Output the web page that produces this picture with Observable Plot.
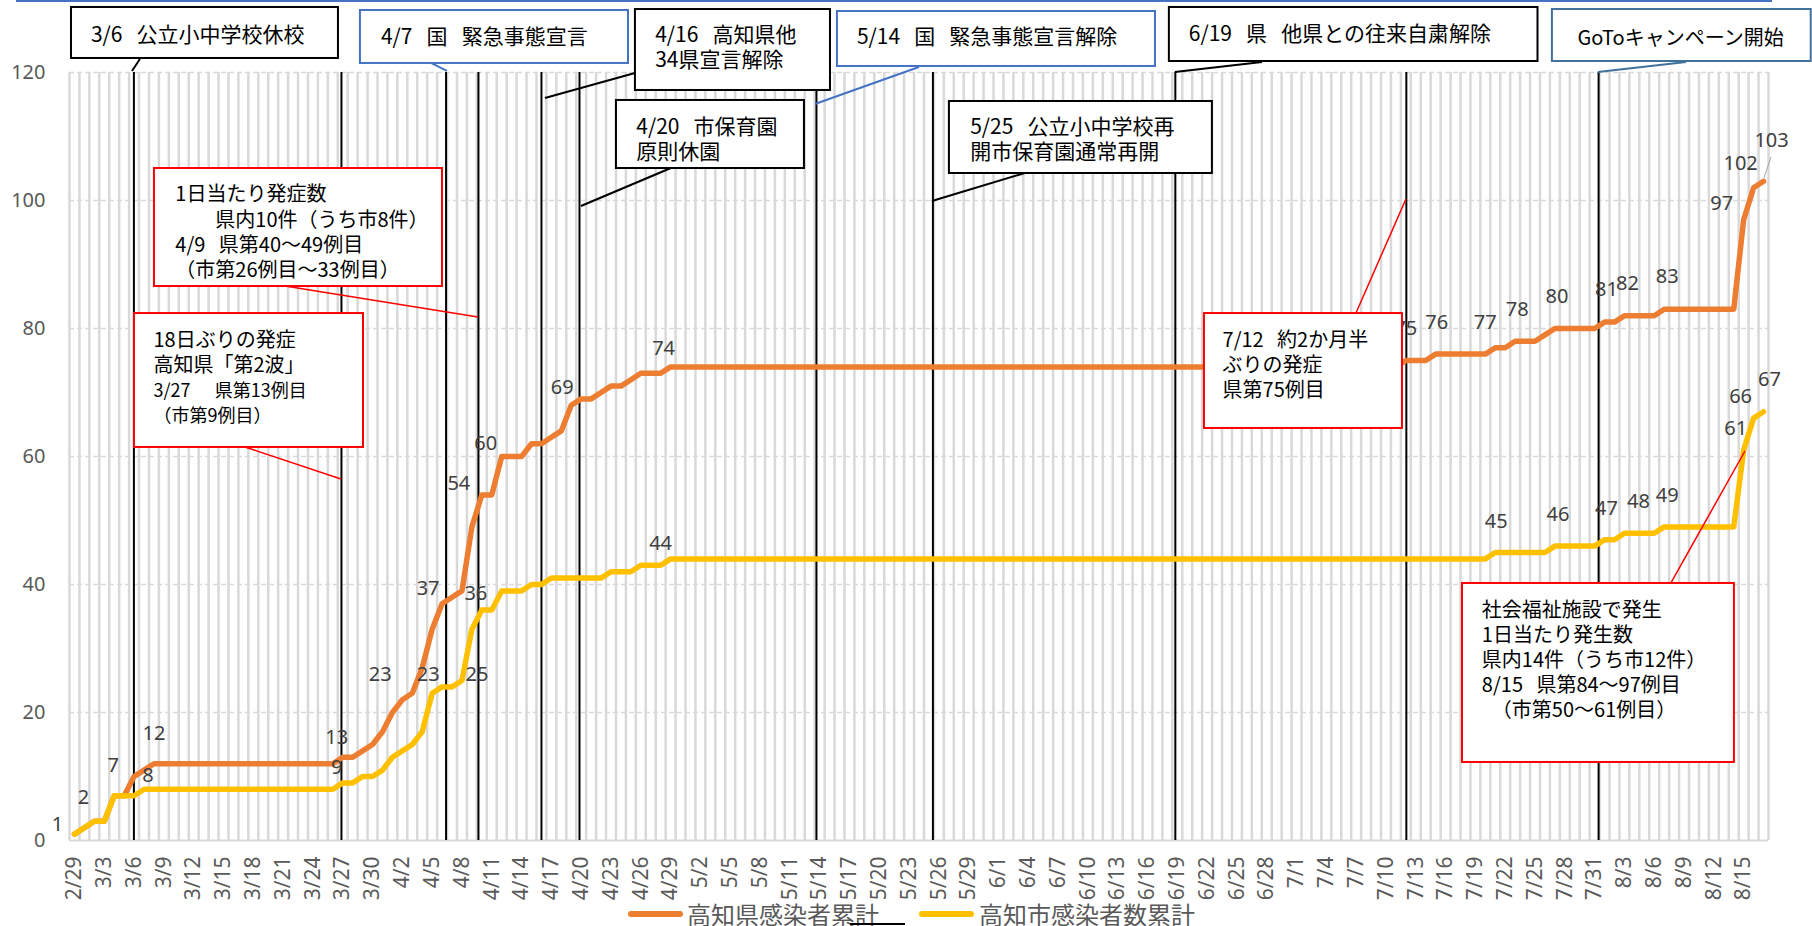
<!DOCTYPE html>
<html><head><meta charset="utf-8">
<script src="https://cdn.jsdelivr.net/npm/d3@7"></script>
<script src="https://cdn.jsdelivr.net/npm/@observablehq/plot@0.6"></script>
<style>
html,body{margin:0;padding:0;background:#fff;}
body{width:1812px;height:926px;overflow:hidden;position:relative;font-family:"Noto Sans","Noto Sans CJK JP",sans-serif;}
#chart{position:absolute;left:0;top:0;}
#legend{position:absolute;left:0;top:898px;width:1812px;height:32px;font-family:"Noto Sans CJK JP",sans-serif;}
#legend .sw{position:absolute;top:13px;width:55px;height:6px;border-radius:3px;}
#legend .tx{position:absolute;top:0;font-size:24px;line-height:32px;color:#595959;white-space:nowrap;}
</style></head><body>
<div id="chart"></div>
<div id="legend">
  <span class="sw" style="left:628px;background:#ED7D31"></span>
  <span class="tx" style="left:687px">高知県感染者累計</span>
  <span class="sw" style="left:919px;background:#FFC000"></span>
  <span class="tx" style="left:979px">高知市感染者数累計</span>
  <span style="position:absolute;left:850px;top:25px;width:55px;height:2px;background:#000"></span>
</div>
<script>
// ---- data: day index 0 = 2020-02-29, one value per day ----
const startDate = new Date(2020, 1, 29);
const seriesNames = ["高知県感染者累計", "高知市感染者数累計"];
const prefCumulative = [
  1,2,3,3,7,7,10,11,
  12,12,12,12,12,12,12,12,12,12,12,12,12,12,12,12,12,12,12,
  13,13,14,15,17,20,22,23,27,33,37,38,39,49,54,54,60,60,60,62,62,63,64,68,69,69,70,71,71,72,73,73,73,
  74,74,74,74,74,74,74,74,74,74,74,74,74,74,74,74,74,74,74,74,74,74,74,74,74,74,74,74,74,74,74,74,74,74,74,74,74,
  74,74,74,74,74,74,74,74,74,74,74,74,74,74,74,74,74,74,74,74,74,74,74,74,74,74,74,74,74,74,74,74,74,74,74,74,74,
  75,75,75,76,76,76,76,76,76,77,77,78,78,78,79,80,80,80,80,80,81,81,82,82,82,82,
  83,83,83,83,83,83,83,83,97,102,103
];
const cityCumulative = [
  1,2,3,3,7,7,7,
  8,8,8,8,8,8,8,8,8,8,8,8,8,8,8,8,8,8,8,8,
  9,9,10,10,11,13,14,15,17,23,24,24,25,33,36,36,39,39,39,40,40,41,41,41,41,41,41,42,42,42,43,43,43,
  44,44,44,44,44,44,44,44,44,44,44,44,44,44,44,44,44,44,44,44,44,44,44,44,44,44,44,44,44,44,44,44,44,44,44,44,44,44,44,44,44,44,
  44,44,44,44,44,44,44,44,44,44,44,44,44,44,44,44,44,44,44,44,44,44,44,44,44,44,44,44,44,44,44,44,44,44,44,44,44,44,44,44,44,
  45,45,45,45,45,45,46,46,46,46,46,47,47,48,48,48,48,
  49,49,49,49,49,49,49,49,61,66,67
];
const xTickDays = d3.range(0, 171, 3);
const yTickValues = [0, 20, 40, 60, 80, 100, 120];
const eventLineDays = [5.98, 26.87, 37.4, 40.66, 47.0, 50.83, 74.68, 86.4, 110.8, 134.05, 153.4];
const prefLabelDays = [0,1,4,8,27,34,37,41,43,51,60,134,137,143,145,149,154,156,160,168,169,170];
const cityLabelDays = [7,27,36,39,41,60,143,149,154,156,160,168,169,170];

// ---- layout (label nudges in px) ----
const prefLabelNudge = [[-17,-10],[-1,-30],[-1,-30],[0,-30],[-6,-20],[-32,-19],[-14,-15],[-23,-11],[-16,-13],[-19,-11],[-7,-18],[0,-32],[1,-32],[-10,-25],[2,-32],[2,-32],[2,-33],[3,-32],[3,-33],[-22,-16],[-13,-24],[8,-41]];
const cityLabelNudge = [[4,-14],[-6,-15],[-4,-19],[15,-6],[-6,-17],[-10,-15],[1,-31],[3,-32],[2,-31],[14,-32],[3,-31],[-8,-22],[-13,-22],[6,-32]];

const S3 = "\u00A0\u00A0\u00A0";
// annotation call-outs, in data units (x: day index, y: count)
const annotationBoxes = [
  {x1:-0.30, x2:26.57, y1:122.19, y2:130.16, stroke:"#000", tx:1.71, ty:126.1, lines:["3/6"+S3+"公立小中学校休校"], size:21},
  {x1:28.78, x2:55.76, y1:121.41, y2:129.69, stroke:"#4472C4", tx:30.9, ty:125.8, lines:["4/7"+S3+"国"+S3+"緊急事態宣言"], size:21},
  {x1:56.46, x2:76.09, y1:117.19, y2:129.84, stroke:"#000", tx:58.5, ty:126.1, lines:["4/16"+S3+"高知県他","34県宣言解除"], size:21},
  {x1:54.55, x2:73.47, y1:105.0, y2:115.63, stroke:"#000", tx:56.6, ty:111.7, lines:["4/20"+S3+"市保育園","原則休園"], size:21},
  {x1:76.79, x2:108.8, y1:120.94, y2:129.53, stroke:"#4472C4", tx:78.8, ty:125.8, lines:["5/14"+S3+"国"+S3+"緊急事態宣言解除"], size:21},
  {x1:88.06, x2:114.53, y1:104.22, y2:115.47, stroke:"#000", tx:90.2, ty:111.7, lines:["5/25"+S3+"公立小中学校再","開市保育園通常再開"], size:21},
  {x1:110.2, x2:147.3, y1:121.72, y2:130.16, stroke:"#000", tx:112.2, ty:126.25, lines:["6/19"+S3+"県"+S3+"他県との往来自粛解除"], size:21},
  {x1:148.75, x2:174.8, y1:121.72, y2:129.84, stroke:"#41719C", tx:161.7, ty:125.6, anchor:"middle", lines:["GoToキャンペーン開始"], size:20},
  {x1:8.05, x2:37.04, y1:86.56, y2:105.0, stroke:"#FF0000", tx:10.2, ty:101.1, lines:["1日当たり発症数","　　県内10件（うち市8件）","4/9"+S3+"県第40～49例目","（市第26例目～33例目）"], size:20},
  {x1:6.04, x2:29.09, y1:61.41, y2:82.34, stroke:"#FF0000", tx:8.0, ty:78.4, lines:["18日ぶりの発症","高知県「第2波」","3/27"+S3+S3+"県第13例目","（市第9例目）"], sizes:[20,20,18,18]},
  {x1:113.73, x2:133.66, y1:64.38, y2:82.34, stroke:"#FF0000", tx:115.6, ty:78.4, lines:["7/12"+S3+"約2か月半","ぶりの発症","県第75例目"], size:20},
  {x1:139.7, x2:167.07, y1:12.19, y2:40.16, stroke:"#FF0000", tx:141.7, ty:36.25, lines:["社会福祉施設で発生","1日当たり発生数","県内14件（うち市12件）","8/15"+S3+"県第84～97例目","　（市第50～61例目）"], size:20}
];
const annotationPointers = [
  {x1:6.64, y1:122.03, x2:5.84, y2:120.16, stroke:"#000", w:2},
  {x1:35.93, y1:121.41, x2:37.54, y2:120.16, stroke:"#4472C4", w:2},
  {x1:56.46, y1:119.84, x2:47.4, y2:115.94, stroke:"#000", w:2},
  {x1:60.08, y1:105.0, x2:51.03, y2:99.06, stroke:"#000", w:2},
  {x1:85.04, y1:120.78, x2:74.58, y2:115.0, stroke:"#4472C4", w:2},
  {x1:95.71, y1:104.22, x2:86.35, y2:99.84, stroke:"#000", w:2},
  {x1:119.57, y1:121.56, x2:110.8, y2:120.0, stroke:"#000", w:2},
  {x1:162.24, y1:121.56, x2:153.38, y2:120.0, stroke:"#41719C", w:2},
  {x1:21.24, y1:86.56, x2:40.66, y2:81.72, stroke:"#FF0000", w:1.5},
  {x1:17.21, y1:61.41, x2:26.87, y2:56.41, stroke:"#FF0000", w:1.5},
  {x1:129.03, y1:82.34, x2:134.06, y2:100.16, stroke:"#FF0000", w:1.5},
  {x1:160.73, y1:40.16, x2:168.18, y2:60.78, stroke:"#FF0000", w:1.5},
  {x1:170.09, y1:103.44, x2:170.8, y2:106.72, stroke:"#A6A6A6", w:1}
];

const fmtDay = d => { const t = d3.timeDay.offset(startDate, d); return `${t.getMonth()+1}/${t.getDate()}`; };
const NUM_FONT = "'Noto Sans', sans-serif";

const labelMarks = [];
prefLabelDays.forEach((d, i) => labelMarks.push(Plot.text([d], {
  x: v => v, y: v => prefCumulative[v], text: v => String(prefCumulative[v]),
  dx: prefLabelNudge[i][0], dy: prefLabelNudge[i][1],
  fontSize: 20, fill: "#404040", fontFamily: NUM_FONT
})));
cityLabelDays.forEach((d, i) => labelMarks.push(Plot.text([d], {
  x: v => v, y: v => cityCumulative[v], text: v => String(cityCumulative[v]),
  dx: cityLabelNudge[i][0], dy: cityLabelNudge[i][1],
  fontSize: 20, fill: "#404040", fontFamily: NUM_FONT
})));

const plot = Plot.plot({
  width: 1812, height: 900,
  marginLeft: 69, marginRight: 44, marginTop: 72, marginBottom: 60,
  x: {type: "linear", domain: [-0.5, prefCumulative.length - 0.5], axis: null},
  y: {domain: [0, 120], axis: null},
  style: {background: "#fff", overflow: "visible"},
  marks: [
    Plot.ruleX(d3.range(-0.5, prefCumulative.length, 1), {stroke: "#d9d9d9", strokeWidth: 2.5}),
    Plot.ruleY(yTickValues.filter(v => v > 0), {stroke: "#d9d9d9", strokeWidth: 1.5, strokeDasharray: "5,3"}),
    Plot.ruleY([0], {stroke: "#d9d9d9", strokeWidth: 2}),
    Plot.ruleX(eventLineDays, {stroke: "#000", strokeWidth: 2}),
    Plot.line(prefCumulative, {x: (d, i) => i, y: d => d, stroke: "#ED7D31", strokeWidth: 5.5, strokeLinejoin: "round", strokeLinecap: "round"}),
    Plot.line(cityCumulative, {x: (d, i) => i, y: d => d, stroke: "#FFC000", strokeWidth: 5.5, strokeLinejoin: "round", strokeLinecap: "round"}),
    ...labelMarks,
    Plot.text(xTickDays, {x: d => d, frameAnchor: "bottom", text: fmtDay, rotate: -90, textAnchor: "end", lineAnchor: "middle", dy: 16, fontSize: 21, fill: "#595959", fontFamily: NUM_FONT}),
    Plot.text(yTickValues, {y: d => d, frameAnchor: "left", text: d => String(d), textAnchor: "end", dx: -24, fontSize: 20, fill: "#595959", fontFamily: NUM_FONT})
  ]
});
document.getElementById("chart").appendChild(plot);

// ---- call-out annotations mapped through the plot's own scales ----
const sx = plot.scale("x"), sy = plot.scale("y");
const X = v => sx.apply(v), Y = v => sy.apply(v);
const svg = d3.select(plot);
const g = svg.append("g").attr("class", "annotations");
g.append("line").attr("x1", 16).attr("x2", 1772).attr("y1", 1).attr("y2", 1)
  .attr("stroke", "#4472C4").attr("stroke-width", 2);
g.selectAll("line.ptr").data(annotationPointers).join("line").attr("class", "ptr")
  .attr("x1", d => X(d.x1)).attr("y1", d => Y(d.y1)).attr("x2", d => X(d.x2)).attr("y2", d => Y(d.y2))
  .attr("stroke", d => d.stroke).attr("stroke-width", d => d.w);
annotationBoxes.forEach(b => {
  const bg = g.append("g");
  bg.append("rect").attr("x", X(b.x1)).attr("y", Y(b.y2))
    .attr("width", X(b.x2) - X(b.x1)).attr("height", Y(b.y1) - Y(b.y2))
    .attr("fill", "#fff").attr("stroke", b.stroke).attr("stroke-width", 2);
  b.lines.forEach((ln, i) => {
    const size = b.sizes ? b.sizes[i] : b.size;
    bg.append("text").attr("x", X(b.tx)).attr("y", Y(b.ty) + i * 25.2)
      .attr("dominant-baseline", "central")
      .attr("text-anchor", b.anchor || "start")
      .attr("font-size", size)
      .attr("font-family", "'Noto Sans CJK JP', sans-serif")
      .attr("fill", "#000")
      .style("white-space", "pre")
      .text(ln);
  });
});
</script>
</body></html>
